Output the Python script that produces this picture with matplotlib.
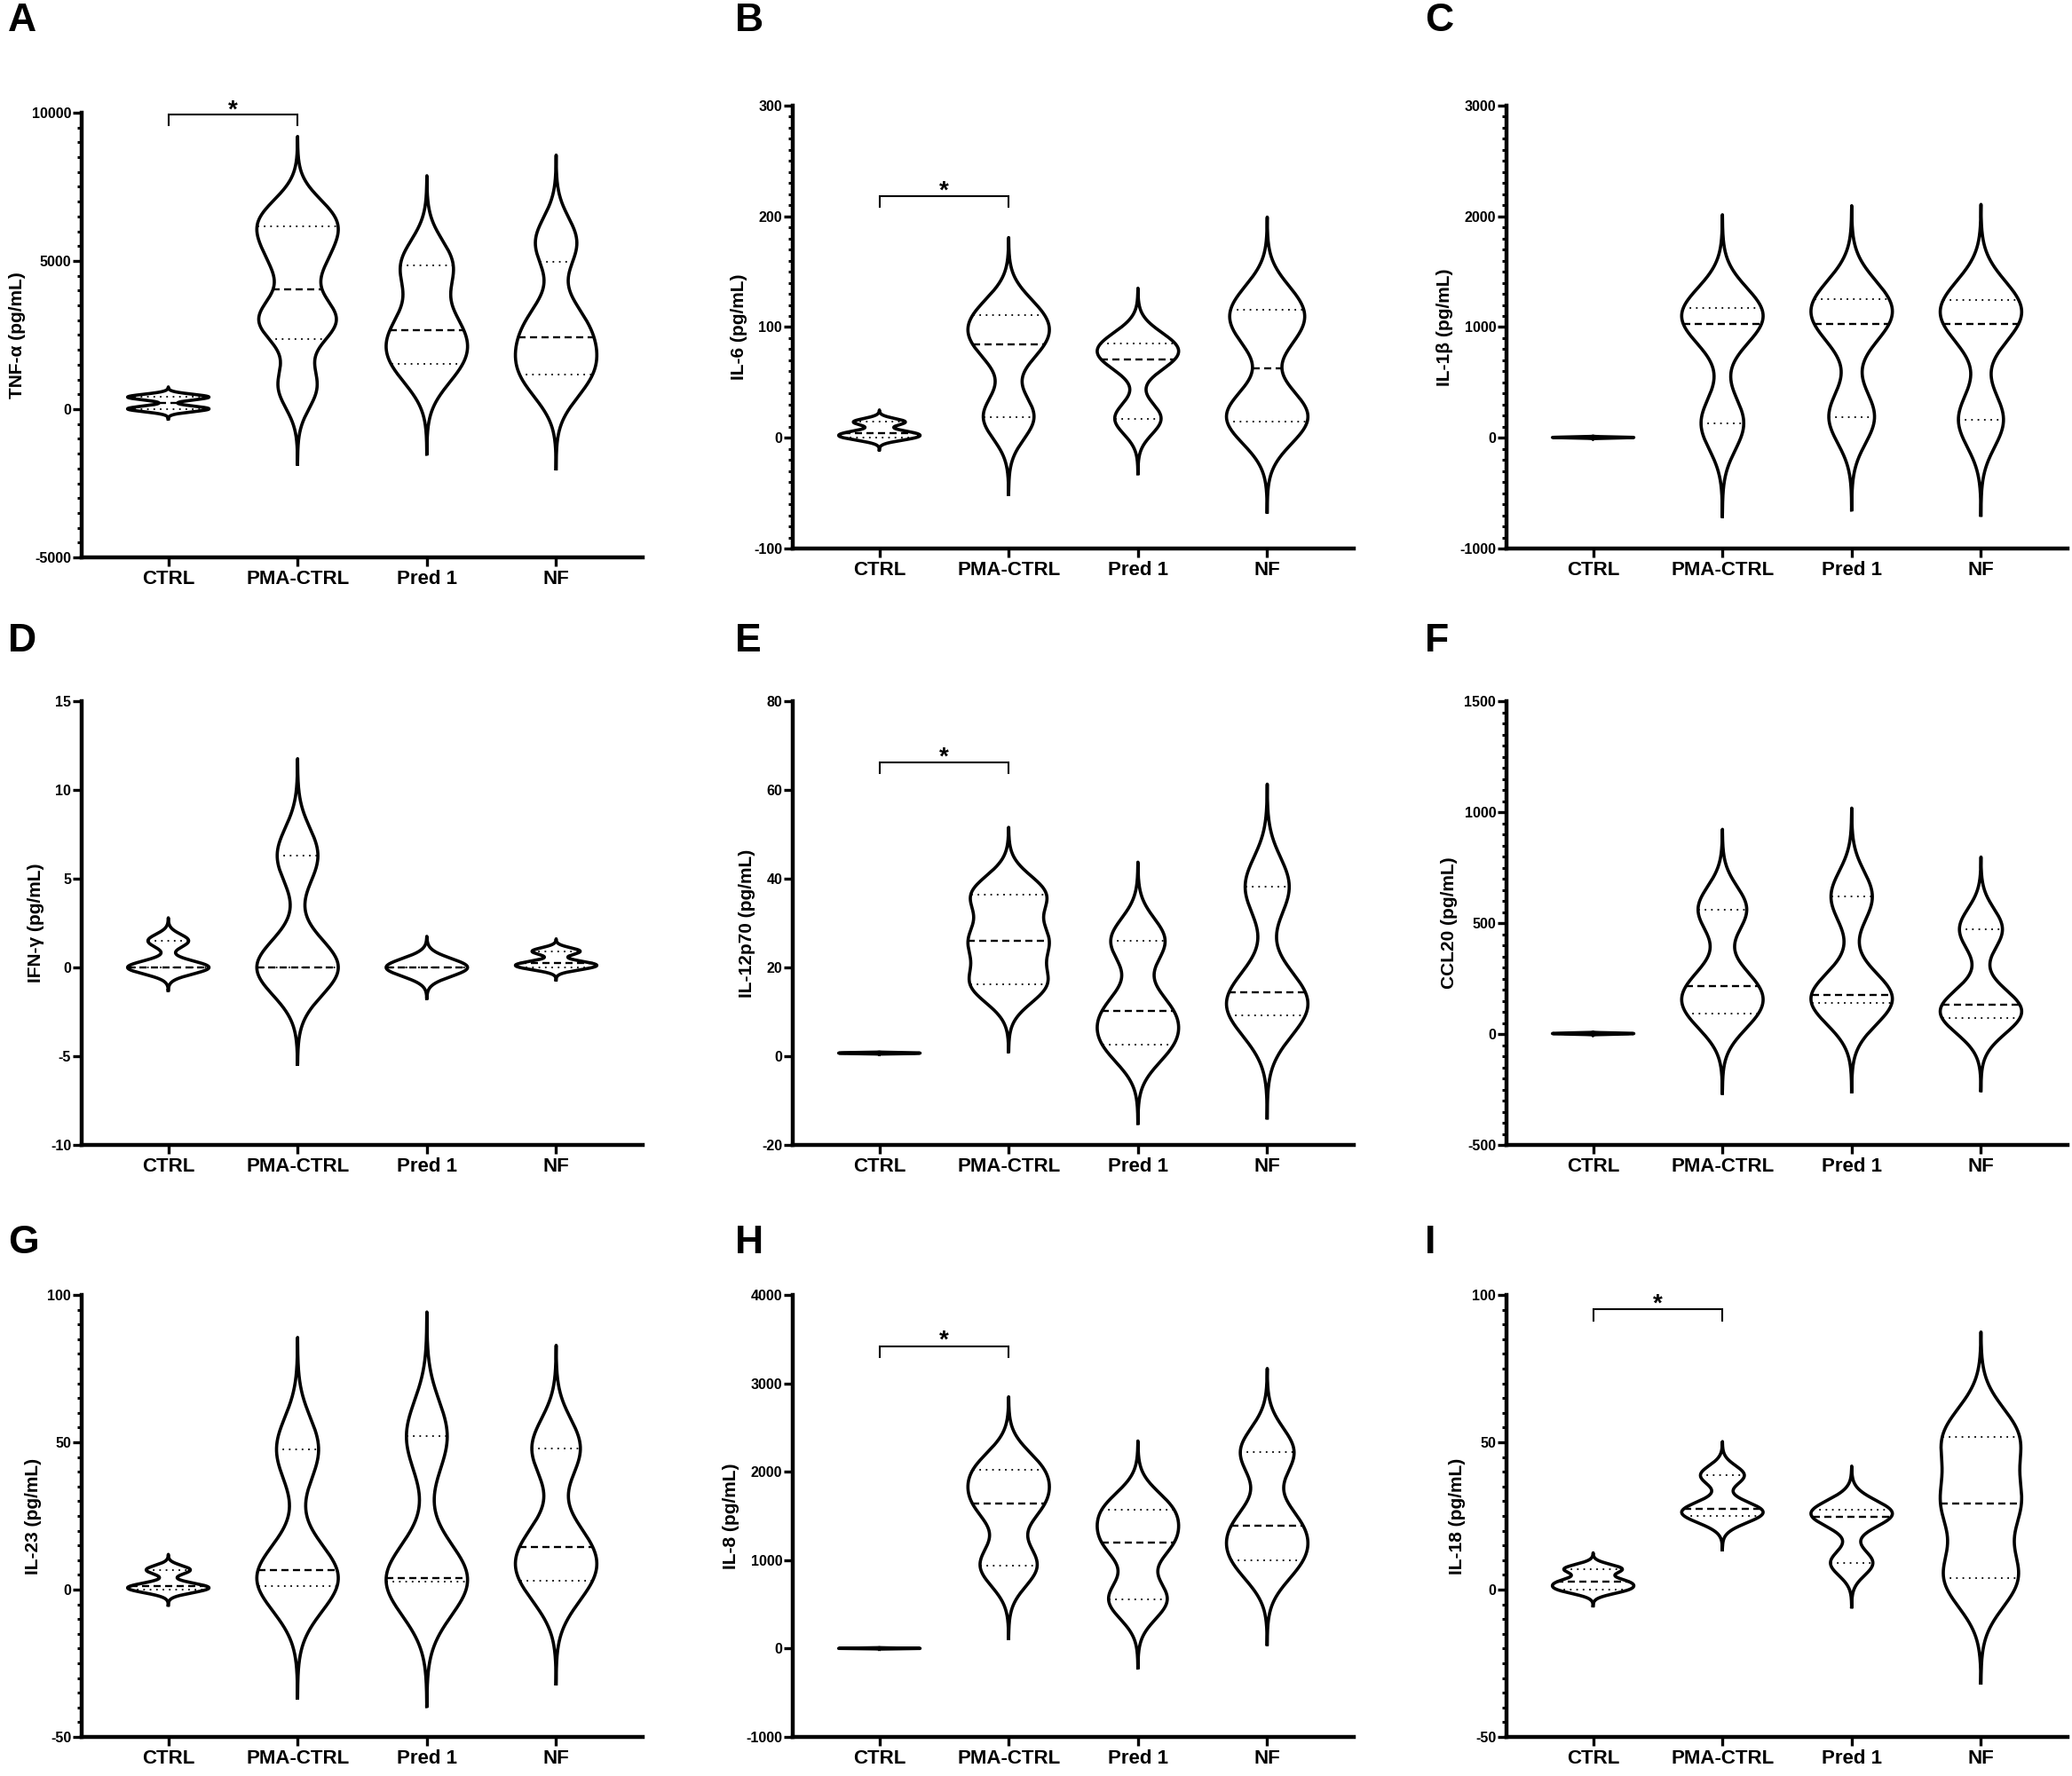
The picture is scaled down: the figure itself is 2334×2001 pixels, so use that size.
import numpy as np
import matplotlib
matplotlib.use('Agg')
import matplotlib.pyplot as plt
from matplotlib.ticker import MultipleLocator, NullLocator

plt.rcParams['font.family'] = ['Liberation Sans', 'DejaVu Sans']
plt.rcParams['font.weight'] = 'bold'
plt.rcParams['axes.unicode_minus'] = False

groups = ['CTRL', 'PMA-CTRL', 'Pred 1', 'NF']

tnf_vals = [[0, 20, 396, 418], [775, 2915, 3100, 4960, 6035, 6575],
            [1519, 2675, 4844], [934, 1874, 2956, 5623]]
tnf_bw = [95, 750, 866, 842]

il6_vals = [[0, 4.3, 14.3], [18.9, 84.5, 110.8], [17.4, 71, 85.4], [10, 28, 97, 122.3]]
il6_bw = [3.1, 20, 14.2, 22]

il1b_vals = [[0, 3, 6], [131, 1027, 1174], [189, 1027, 1256], [162, 1027, 1247]]
il1b_bw = [3, 240, 240, 246]

ifng_vals = [[0, 0, 1.5], [0, 0, 6.3], [0, 0, 0], [0, 0.23, 0.91]]
ifng_bw = [0.37, 1.56, 0.5, 0.2]

il12_vals = [[0.6, 0.7, 0.8], [16.2, 26.0, 36.4], [2.6, 10.2, 26.0], [9.2, 14.4, 38.2]]
il12_bw = [0.05, 4.33, 5.06, 6.6]

ccl20_vals = [[0, 2, 4], [94, 216, 562], [139, 178, 619], [71, 132, 472]]
ccl20_bw = [1.5, 103, 114, 93]

il23_vals = [[0, 1.2, 6.7], [1.15, 6.65, 47.6], [2.6, 4.0, 52], [2.9, 14.6, 48]]
il23_bw = [1.5, 10.85, 12.06, 9.97]

il8_vals = [[0, 2, 5], [940, 1639, 2021], [554, 1203, 1574], [993, 1390, 2223]]
il8_bw = [2, 236, 221, 270]

il18_vals = [[0, 2.6, 7.0], [25, 27.5, 38.8], [9.05, 24.6, 27], [4, 29.2, 51.7]]
il18_bw = [1.57, 3.27, 4.26, 10.2]

letters = ['A', 'B', 'C', 'D', 'E', 'F', 'G', 'H', 'I']
ylabels = ['TNF-α (pg/mL)', 'IL-6 (pg/mL)', 'IL-1β (pg/mL)',
           'IFN-γ (pg/mL)', 'IL-12p70 (pg/mL)', 'CCL20 (pg/mL)',
           'IL-23 (pg/mL)', 'IL-8 (pg/mL)', 'IL-18 (pg/mL)']
ylims = [(-5000, 10000), (-100, 300), (-1000, 3000),
         (-10, 15), (-20, 80), (-500, 1500),
         (-50, 100), (-1000, 4000), (-50, 100)]
major_steps = [5000, 100, 1000, 5, 20, 500, 50, 1000, 50]
minor_steps = [500, 10, 100, None, None, 50, 5, None, 5]

all_vals = [tnf_vals, il6_vals, il1b_vals, ifng_vals, il12_vals,
            ccl20_vals, il23_vals, il8_vals, il18_vals]
all_bw = [tnf_bw, il6_bw, il1b_bw, ifng_bw, il12_bw,
          ccl20_bw, il23_bw, il8_bw, il18_bw]

# CTRL vs PMA-CTRL brackets: (bar, leg end, star) in data units
sig = {0: (9940, 9580, 10330), 1: (218, 209, 229.5), 4: (66.3, 63.8, 69),
       7: (3419, 3300, 3560), 8: (95.2, 91.4, 99.2)}

W, H = 2334, 2001
col_left = [92, 893, 1697]
ax_w = 632
row_tb = [[(127, 628), (119, 618), (119, 618)],
          [(790, 1290)] * 3,
          [(1459, 1957)] * 3]
letter_x = [9, 828, 1605]
letter_y = [12, 711, 1389]


def prism_pct(v, p):
    v = np.sort(np.asarray(v, float))
    n = len(v)
    r = p * (n + 1)
    if r <= 1:
        return v[0]
    if r >= n:
        return v[-1]
    k = int(np.floor(r))
    return v[k - 1] + (r - k) * (v[k] - v[k - 1])


def draw_violin(ax, pos, vals, bw, half=0.315, cut=3.5):
    vals = np.asarray(vals, float)
    y = np.linspace(vals.min() - cut * bw, vals.max() + cut * bw, 800)
    dens = np.exp(-0.5 * ((y[:, None] - vals[None, :]) / bw) ** 2).sum(axis=1)
    w = dens / dens.max() * half
    ax.fill_betweenx(y, pos - w, pos + w, facecolor='white', edgecolor='none', zorder=2)
    for p in (0.25, 0.5, 0.75):
        q = prism_pct(vals, p)
        hw = np.interp(q, y, w)
        if p == 0.5:
            ax.plot([pos - hw, pos + hw], [q, q], color='black', lw=1.7,
                    linestyle=(0, (3.4, 2.1)), dash_capstyle='butt', zorder=3)
        else:
            ax.plot([pos - hw, pos + hw], [q, q], color='black', lw=1.3,
                    linestyle=(0, (1.0, 3.0)), dash_capstyle='butt', zorder=3)
    xs = np.r_[pos - w, (pos + w)[::-1], pos - w[0]]
    ys = np.r_[y, y[::-1], y[0]]
    ax.plot(xs, ys, color='black', lw=2.6, solid_joinstyle='round', zorder=4)


fig = plt.figure(figsize=(W / 100, H / 100), dpi=100)

for i in range(9):
    r, c = divmod(i, 3)
    top, bot = row_tb[r][c]
    ax = fig.add_axes([col_left[c] / W, 1 - bot / H, ax_w / W, (bot - top) / H])
    for j in range(4):
        draw_violin(ax, j, all_vals[i][j], all_bw[i][j])

    ax.set_xlim(-0.67, 3.67)
    ax.set_ylim(*ylims[i])
    for side in ('top', 'right'):
        ax.spines[side].set_visible(False)
    for side in ('left', 'bottom'):
        ax.spines[side].set_linewidth(3.2)
        ax.spines[side].set_capstyle('projecting')
    ax.set_xticks(range(4))
    ax.set_xticklabels(groups, fontsize=16, fontweight='bold')
    ax.yaxis.set_major_locator(MultipleLocator(major_steps[i]))
    if minor_steps[i]:
        ax.yaxis.set_minor_locator(MultipleLocator(minor_steps[i]))
    else:
        ax.yaxis.set_minor_locator(NullLocator())
    ax.tick_params(axis='x', length=7, width=2.4, pad=3)
    ax.tick_params(axis='y', which='major', length=7, width=2.4, labelsize=11.5, pad=1.5)
    ax.tick_params(axis='y', which='minor', length=3.5, width=2.2)
    for t in ax.get_yticklabels():
        t.set_fontweight('bold')
    ax.set_ylabel(ylabels[i], fontsize=15, fontweight='bold', labelpad=5)

    if i in sig:
        yb, yl, ys = sig[i]
        ax.plot([0, 0, 1, 1], [yl, yb, yb, yl], color='black', lw=1.5,
                clip_on=False, solid_joinstyle='miter', zorder=5)
        ax.annotate('*', xy=(0.5, ys), xytext=(0, -11), textcoords='offset points',
                    ha='center', va='baseline', fontsize=20, fontweight='bold',
                    annotation_clip=False)

    fig.text(letter_x[c] / W, 1 - (letter_y[r] - 9) / H, letters[i],
             ha='left', va='top', fontsize=32, fontweight='bold')

fig.savefig('out.png', dpi=100)
